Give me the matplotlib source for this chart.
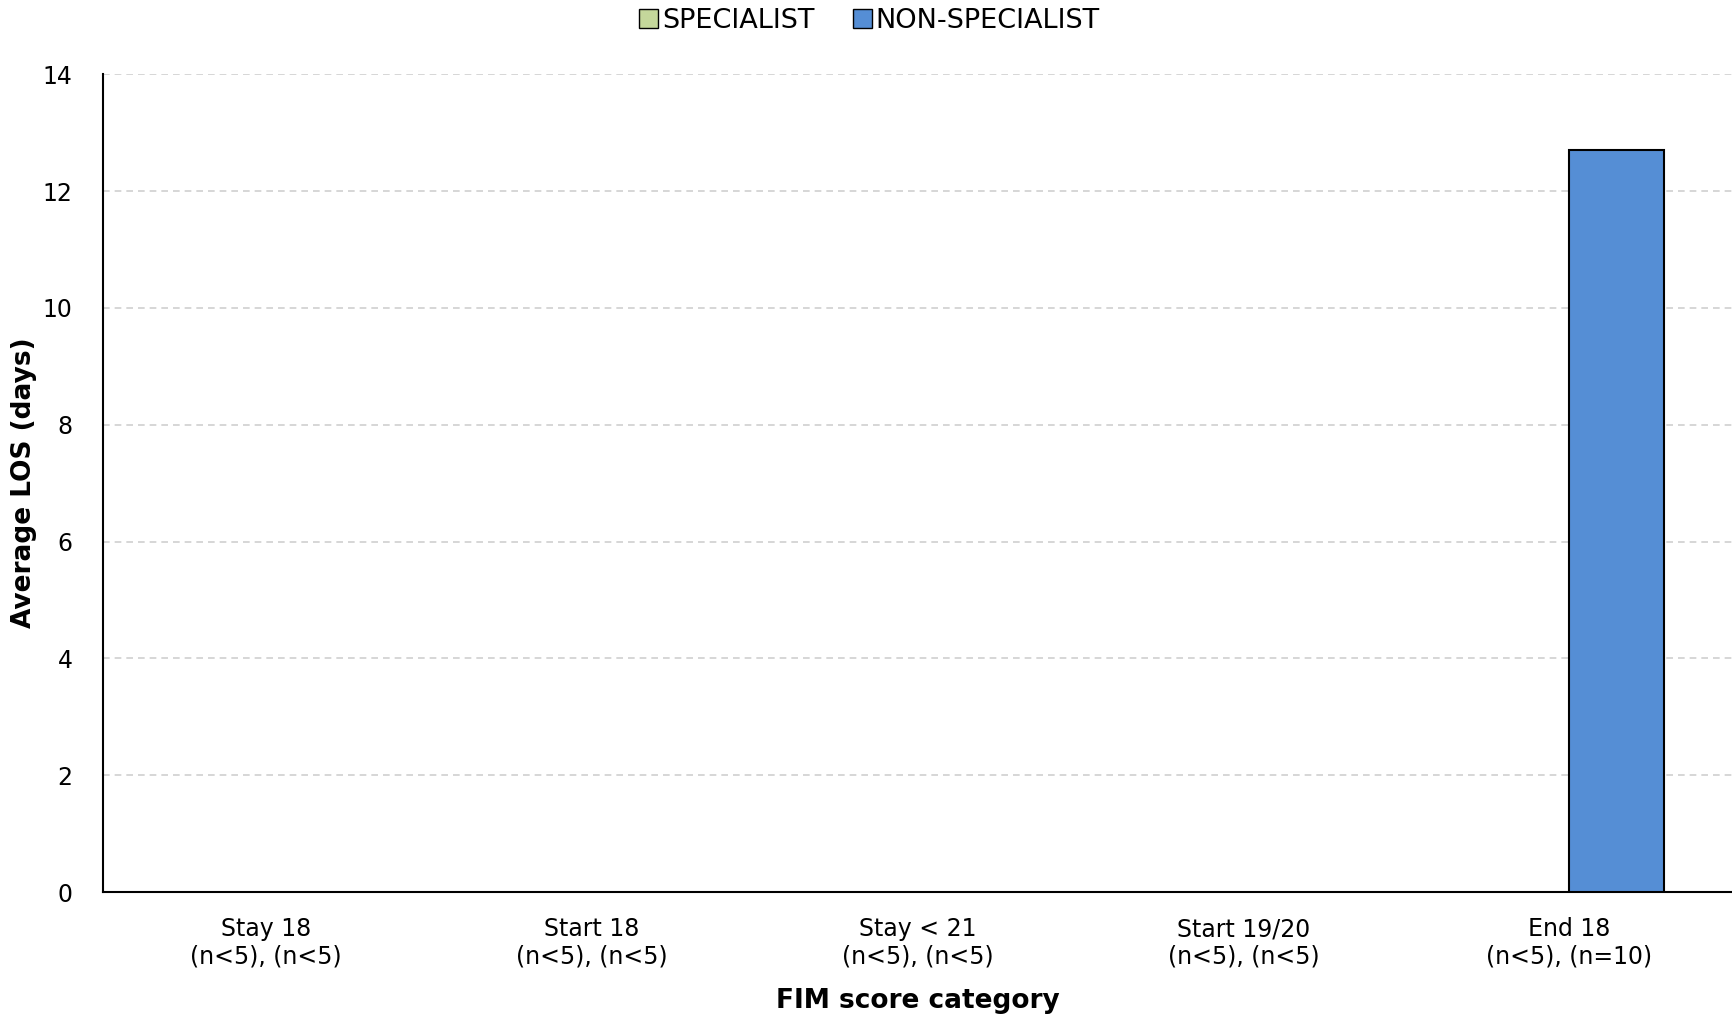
import matplotlib
matplotlib.use('Agg')
import matplotlib.pyplot as plt
import numpy as np
from matplotlib.patches import Patch

categories = ['Stay 18\n(n<5), (n<5)', 'Start 18\n(n<5), (n<5)', 'Stay < 21\n(n<5), (n<5)',
              'Start 19/20\n(n<5), (n<5)', 'End 18\n(n<5), (n=10)']
specialist = [0, 0, 0, 0, 0]
non_specialist = [0, 0, 0, 0, 12.7]

c_spec = '#C4D79B'
c_non = '#558ED5'

plt.rcParams['font.family'] = 'DejaVu Sans'

fig = plt.figure(figsize=(17.32, 10.16), dpi=100)
ax = fig.add_axes([0.0595, 0.122, 0.9405, 0.805])

x = np.arange(len(categories))
w = 0.29
spec_vals = [v if v > 0 else np.nan for v in specialist]
non_vals = [v if v > 0 else np.nan for v in non_specialist]
ax.bar(x - w / 2, spec_vals, w, color=c_spec, edgecolor='black', linewidth=1.5, zorder=3)
ax.bar(x + w / 2, non_vals, w, color=c_non, edgecolor='black', linewidth=1.5, zorder=3)

ax.set_xlim(-0.5, 4.5)
ax.set_ylim(0, 14)
ax.set_yticks(range(0, 15, 2))
ax.set_xticks(x)
ax.set_xticklabels(categories, fontsize=17)
ax.tick_params(axis='y', labelsize=17, length=0, pad=22)
ax.tick_params(axis='x', length=0, pad=18)
ax.yaxis.grid(True, color='#D0D0D0', linestyle=(0, (4, 3)), linewidth=1.2, zorder=0)
ax.spines['top'].set_visible(False)
ax.spines['right'].set_visible(False)
ax.spines['left'].set_linewidth(1.5)
ax.spines['bottom'].set_linewidth(1.5)

ax.set_ylabel('Average LOS (days)', fontsize=19, fontweight='bold', labelpad=4)
ax.set_xlabel('FIM score category', fontsize=19, fontweight='bold', labelpad=14)

handles = [Patch(facecolor=c_spec, edgecolor='black', linewidth=1),
           Patch(facecolor=c_non, edgecolor='black', linewidth=1)]
fig.legend(handles, ['SPECIALIST', 'NON-SPECIALIST'], loc='center', bbox_to_anchor=(0.502, 0.979),
           ncol=2, frameon=False, fontsize=19.5, handlelength=0.7, handleheight=0.7,
           handletextpad=0.15, columnspacing=1.4)

fig.savefig('out.png', dpi=100)
